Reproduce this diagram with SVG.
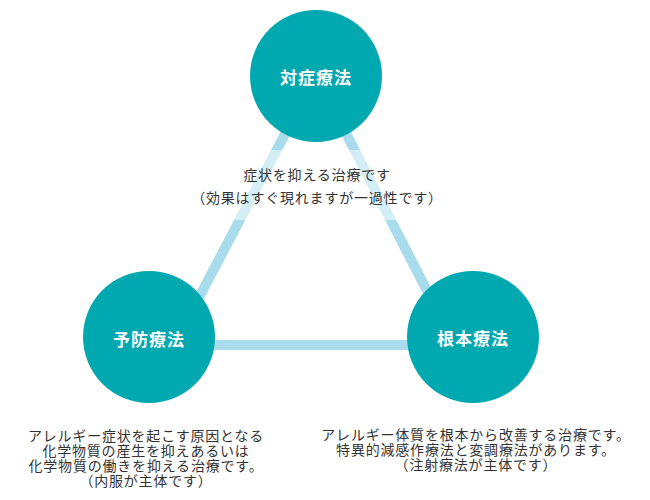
<svg xmlns="http://www.w3.org/2000/svg" width="650" height="500" viewBox="0 0 650 500">
<style>
.node{fill:#00a8b0}
.nl{fill:#ffffff;font-family:"Noto Sans CJK JP","Noto Sans",sans-serif;font-size:17px;font-weight:bold;text-anchor:middle;dominant-baseline:central;letter-spacing:1px}
.desc{fill:#333333;font-family:"Noto Sans CJK JP","Noto Sans",sans-serif;font-size:14px;text-anchor:middle;dominant-baseline:central;letter-spacing:0.8px}
</style>
<rect width="650" height="500" fill="#ffffff"/>
<g id="connectors">
<polygon points="316,75 174,345 455,345" fill="none" stroke="#a8dcec" stroke-width="10" stroke-linejoin="miter"/>
</g>
<g id="desc-top">
<rect x="190" y="150" width="255" height="70" fill="#ffffff" fill-opacity="0.5"/>
<text class="desc" x="317" y="174">症状を抑える治療です</text>
<text class="desc" x="317" y="197">（効果はすぐ現れますが一過性です）</text>
</g>
<g id="node-taisho">
<circle class="node" cx="316" cy="76" r="66"/>
<text class="nl" x="316" y="76">対症療法</text>
</g>
<g id="node-yobo">
<circle class="node" cx="149" cy="337" r="66"/>
<text class="nl" x="149" y="338">予防療法</text>
</g>
<g id="node-konpon">
<circle class="node" cx="473" cy="337" r="66"/>
<text class="nl" x="473" y="337">根本療法</text>
</g>
<g id="desc-left">
<text class="desc" x="146" y="435">アレルギー症状を起こす原因となる</text>
<text class="desc" x="146" y="450">化学物質の産生を抑えあるいは</text>
<text class="desc" x="146" y="465">化学物質の働きを抑える治療です。</text>
<text class="desc" x="146" y="480">（内服が主体です）</text>
</g>
<g id="desc-right">
<text class="desc" x="476" y="434">アレルギー体質を根本から改善する治療です。</text>
<text class="desc" x="476" y="449">特異的減感作療法と変調療法があります。</text>
<text class="desc" x="476" y="464">（注射療法が主体です）</text>
</g>
</svg>
